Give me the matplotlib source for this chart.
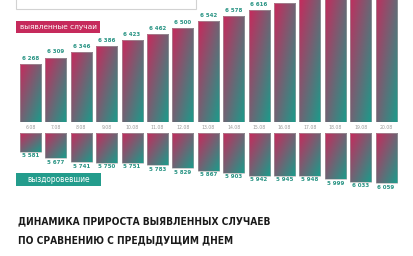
import numpy as np
import matplotlib
matplotlib.use("Agg")
import matplotlib.pyplot as plt
from matplotlib.patches import Rectangle
from matplotlib.colors import LinearSegmentedColormap

dates = ['6.08', '7.08', '8.08', '9.08', '10.08', '11.08', '12.08', '13.08',
         '14.08', '15.08', '16.08', '17.08', '18.08', '19.08', '20.08']
detected = [6268, 6309, 6346, 6386, 6423, 6462, 6500, 6542,
            6578, 6616, 6658, 6695, 6730, 6765, 6800]
recovered = [5581, 5677, 5741, 5750, 5751, 5783, 5829, 5867,
             5903, 5942, 5945, 5948, 5999, 6033, 6059]

PINK = '#c8295c'
TEAL = '#1a9c8b'
cmap = LinearSegmentedColormap.from_list('pt', [PINK, TEAL])

W, H = 414, 256
fig = plt.figure(figsize=(W / 100, H / 100), dpi=100)
fig.patch.set_facecolor('white')


def fx(x):
    return x / W


def fy(y):
    return 1 - y / H


x_lo, x_hi = -1.2, (W - 30.5) / 25.4
top_base, top_max = 5894, 6680
bot_base, bot_max = 5291, 5291 + 123 / 0.0655

ax_top = fig.add_axes([0, fy(122), 1, 122 / H])
ax_bot = fig.add_axes([0, 0, 1, (H - 133) / H])

n = 60
U, V = np.meshgrid(np.linspace(0, 1, n), np.linspace(0, 1, n))
grad = (U + V) / 2
bw = 0.83


def grad_bar(ax, x, vis_top, vis_bottom):
    l, r = x - bw / 2, x + bw / 2
    lo, hi = min(vis_top, vis_bottom), max(vis_top, vis_bottom)
    rect = Rectangle((l, lo), bw, hi - lo, facecolor='none',
                     edgecolor='#a8a8a8', linewidth=0.4, zorder=3)
    ax.add_patch(rect)
    im = ax.imshow(grad, cmap=cmap, extent=(l, r, vis_bottom, vis_top),
                   origin='upper', aspect='auto', interpolation='bilinear',
                   zorder=2)
    im.set_clip_path(rect)


xs = np.arange(len(dates))
for i in xs:
    grad_bar(ax_top, i, detected[i], top_base)
    if detected[i] < top_max:
        ax_top.text(i, detected[i] + 20, f"{detected[i]:,}".replace(',', ' '),
                    ha='center', va='bottom', fontsize=4, color='#2a9484',
                    fontweight='bold')
    grad_bar(ax_bot, i, bot_base, recovered[i])
    ax_bot.text(i, recovered[i] + 20, f"{recovered[i]:,}".replace(',', ' '),
                ha='center', va='top', fontsize=4, color='#2a9484',
                fontweight='bold')
    fig.text(fx(30.5 + 25.4 * i), fy(127.5), dates[i], ha='center',
             va='center', fontsize=3.3, color='#9a9a9a')

ax_top.set_xlim(x_lo, x_hi)
ax_top.set_ylim(top_base, top_max)
ax_bot.set_xlim(x_lo, x_hi)
ax_bot.set_ylim(bot_max, bot_base)
for ax in (ax_top, ax_bot):
    ax.axis('off')

# top white box, cut off by the edge
fig.patches.append(Rectangle((fx(16), fy(9)), fx(180), 12 / H,
                             transform=fig.transFigure, facecolor='white',
                             edgecolor='#d2d2d2', linewidth=0.8, zorder=5))

# legend boxes
fig.patches.append(Rectangle((fx(16), fy(33)), fx(84), 12 / H,
                             transform=fig.transFigure, facecolor='#c62a5c',
                             edgecolor='none', zorder=5))
lab1 = fig.text(fx(58), fy(27), 'выявленные случаи', ha='center', va='center',
                fontsize=6, color='white', zorder=6)
fig.patches.append(Rectangle((fx(16), fy(186)), fx(85), 13 / H,
                             transform=fig.transFigure, facecolor='#239c8c',
                             edgecolor='none', zorder=5))
lab2 = fig.text(fx(58.5), fy(179.5), 'выздоровевшие', ha='center',
                va='center', fontsize=6, color='white', zorder=6)

title_font = ['DejaVu Sans', 'Liberation Sans']
t1 = fig.text(fx(18), fy(221.5), 'ДИНАМИКА ПРИРОСТА ВЫЯВЛЕННЫХ СЛУЧАЕВ',
              ha='left', va='center', fontsize=11, fontweight='bold',
              fontstretch='condensed', family=title_font, color='#1a1a1a')
t2 = fig.text(fx(18), fy(240.5), 'ПО СРАВНЕНИЮ С ПРЕДЫДУЩИМ ДНЕМ',
              ha='left', va='center', fontsize=11, fontweight='bold',
              fontstretch='condensed', family=title_font, color='#1a1a1a')

# shrink texts to the widths they have in the picture
fig.canvas.draw()
r = fig.canvas.get_renderer()
for t, w in [(lab1, 78), (lab2, 64), (t1, 253)]:
    t.set_fontsize(t.get_fontsize() * w / t.get_window_extent(r).width)
t2.set_fontsize(t1.get_fontsize())

fig.savefig('out.png', dpi=100, facecolor='white')
